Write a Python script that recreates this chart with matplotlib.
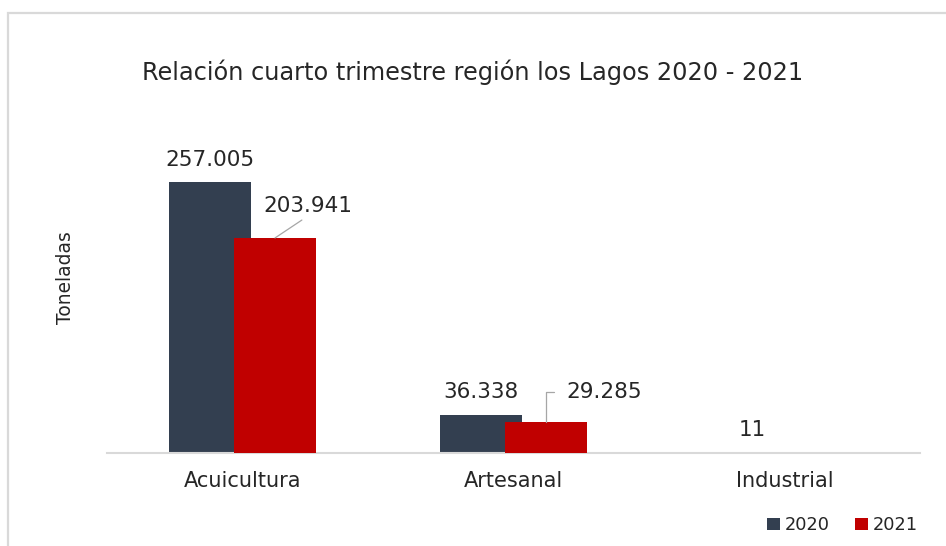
import matplotlib
matplotlib.use("Agg")
import matplotlib.pyplot as plt
from matplotlib.patches import Rectangle
import numpy as np

categories = ["Acuicultura", "Artesanal", "Industrial"]
values_2020 = [257005, 36338, 11]
values_2021 = [203941, 29285, 0]
labels_2020 = ["257.005", "36.338", "11"]
labels_2021 = ["203.941", "29.285", ""]
series_names = ["2020", "2021"]
title = "Relación cuarto trimestre región los Lagos 2020 - 2021"
ylabel = "Toneladas"

c2020 = "#333F50"
c2021 = "#C00000"
grid_c = "#D9D9D9"
txt_c = "#262626"

plt.rcParams["font.family"] = ["DejaVu Sans"]

W, H = 946, 546
fig = plt.figure(figsize=(W / 100, H / 100), dpi=100)

def fx(px):
    return px / W

def fy(py):
    return 1 - py / H

# outer frame
fig.patches.append(Rectangle((fx(8), fy(560)), fx(960) - fx(8), fy(13) - fy(560),
                             transform=fig.transFigure, fill=False,
                             edgecolor=grid_c, linewidth=1.6, zorder=0))

ax_left, ax_right, ax_bot = 107, 920, 453
ax_h = 300
ax = fig.add_axes([fx(ax_left), fy(ax_bot), fx(ax_right) - fx(ax_left), ax_h / H])
ymax = ax_h / 271 * values_2020[0]
ax.set_xlim(-0.5, 2.5)
ax.set_ylim(0, ymax)

x = np.arange(len(categories))
w = 0.30
off = 0.12
ax.bar(x - off, values_2020, width=w, color=c2020, zorder=2, label=series_names[0])
ax.bar(x + off, values_2021, width=w, color=c2021, zorder=3, label=series_names[1])

for s in ["top", "right", "left"]:
    ax.spines[s].set_visible(False)
ax.spines["bottom"].set_color(grid_c)
ax.spines["bottom"].set_linewidth(1.5)
ax.set_yticks([])
ax.set_xticks(x)
ax.set_xticklabels(categories, fontsize=15, color=txt_c)
ax.tick_params(axis="x", length=0, pad=13)

fs = 15.5
# 2020 labels above bars
for i, (v, lab) in enumerate(zip(values_2020, labels_2020)):
    ax.annotate(lab, (x[i] - off, v), xytext=(0, 9), textcoords="offset points",
                ha="center", va="bottom", fontsize=fs, color=txt_c, zorder=5)

# 2021 labels with leader lines
ax.annotate(labels_2021[0], (x[0] + off, values_2021[0]), xytext=(24, 16),
            textcoords="offset points", ha="center", va="bottom",
            fontsize=fs, color=txt_c, zorder=5,
            arrowprops=dict(arrowstyle="-", color="#A6A6A6", lw=0.9,
                            shrinkA=2, shrinkB=0,
                            relpos=(0.5, 0.0)))
ax.annotate(labels_2021[1], (x[1] + off, values_2021[1]), xytext=(42, 22),
            textcoords="offset points", ha="center", va="center",
            fontsize=fs, color=txt_c, zorder=5,
            arrowprops=dict(arrowstyle="-", color="#A6A6A6", lw=0.9,
                            shrinkA=7, shrinkB=0,
                            connectionstyle="angle,angleA=0,angleB=90,rad=0",
                            relpos=(0.0, 0.5)))

fig.text(0.5, fy(72), title, ha="center", va="center", fontsize=17.3, color=txt_c)
fig.text(fx(65), fy(278), ylabel, ha="center", va="center", rotation=90,
         fontsize=13.4, color=txt_c)

leg = fig.legend(loc="center right", bbox_to_anchor=(fx(934), fy(525)), ncol=2,
                 frameon=False, fontsize=12.8, handlelength=0.7, handleheight=0.7,
                 handletextpad=0.3, columnspacing=1.4, labelcolor=txt_c)

fig.savefig("out.png", dpi=100, facecolor="white")
